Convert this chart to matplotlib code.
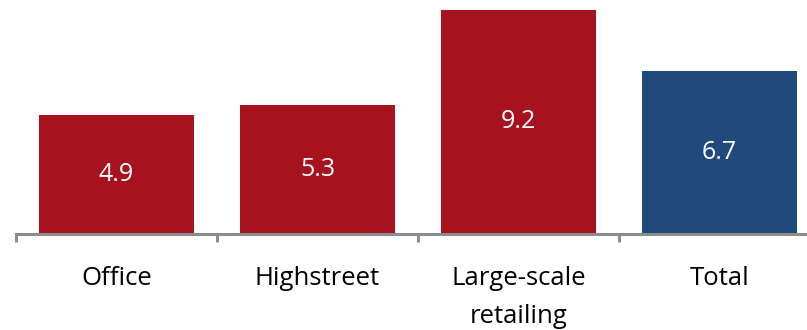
import matplotlib.pyplot as plt

categories = ["Office", "Highstreet", "Large-scale\nretailing", "Total"]
values = [4.9, 5.3, 9.2, 6.7]
colors = ["#A6121E", "#A6121E", "#A6121E", "#204A7C"]

fig = plt.figure(figsize=(8.07, 3.30), dpi=100)
ax = fig.add_axes([16 / 807, 96 / 330, 804 / 807, 234 / 330])

x = range(len(categories))
bars = ax.bar(x, values, width=0.77, color=colors)
ax.bar_label(bars, labels=[f"{v:.1f}" for v in values], label_type="center",
             color="white", fontsize=18, family="Open Sans")

ax.set_xlim(-0.5, 3.5)
ax.set_ylim(0, 9.61)
ax.set_yticks([])
for s in ["top", "right", "left"]:
    ax.spines[s].set_visible(False)
ax.spines["bottom"].set_color("#8C8C8C")
ax.spines["bottom"].set_linewidth(2.2)

# category boundaries as ticks, labels at centres
ax.set_xticks([i - 0.5 for i in range(len(categories) + 1)], minor=True)
ax.tick_params(axis="x", which="minor", length=6, width=2.2, color="#8C8C8C")
ax.set_xticks(list(x))
ax.set_xticklabels(categories, fontsize=18.5, family="Open Sans", linespacing=1.7)
ax.tick_params(axis="x", which="major", length=0, pad=23)

fig.savefig("out.png", dpi=100)
